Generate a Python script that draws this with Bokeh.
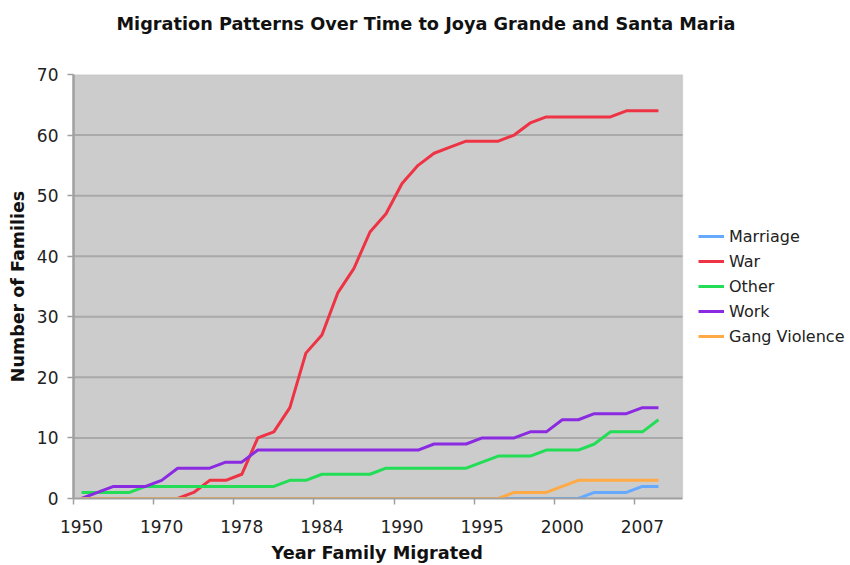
from bokeh.plotting import figure
from bokeh.models import FixedTicker, Range1d, Legend, LegendItem, BoxAnnotation, Title
from bokeh.embed import file_html
from bokeh.resources import INLINE

# category labels (only every 5th is shown on the axis)
years = [1950, 1955, 1960, 1965, 1968, 1970, 1972, 1974, 1975, 1976,
         1978, 1979, 1980, 1981, 1982, 1984, 1985, 1986, 1987, 1988,
         1990, 1991, 1992, 1993, 1994, 1995, 1996, 1997, 1998, 1999,
         2000, 2001, 2002, 2004, 2005, 2007, 2008, 2009]

marriage = [0]*32 + [1, 1, 1, 2, 2]
war = [0, 0, 0, 0, 0, 0, 0, 1, 3, 3, 4, 10, 11, 15, 24, 27, 34, 38, 44, 47,
       52, 55, 57, 58, 59, 59, 59, 60, 62, 63, 63, 63, 63, 63, 64, 64, 64]
other = [1, 1, 1, 1, 2, 2, 2, 2, 2, 2, 2, 2, 2, 3, 3, 4, 4, 4, 4, 5,
         5, 5, 5, 5, 5, 6, 7, 7, 7, 8, 8, 8, 9, 11, 11, 11, 13]
work = [0, 1, 2, 2, 2, 3, 5, 5, 5, 6, 6, 8, 8, 8, 8, 8, 8, 8, 8, 8,
        8, 8, 9, 9, 9, 10, 10, 10, 11, 11, 13, 13, 14, 14, 14, 15, 15]
gang = [0]*27 + [1, 1, 1, 2, 3, 3, 3, 3, 3, 3]

series_names = ["Marriage", "War", "Other", "Work", "Gang Violence"]
series_values = [marriage, war, other, work, gang]
series_colors = ["#66aaff", "#ee3344", "#22dd55", "#8a2be2", "#ffaa44"]

y_ticks = [0, 10, 20, 30, 40, 50, 60, 70]
y_max = 70
label_every = 5

# layout (pixels)
W, H = 850, 565
left, top, bottom = 73, 74, 67
plot_right = 682          # right edge of the grey plot area
legend_x, legend_y = 625, 152

n_cat = len(years)
x_lo, x_hi = -0.5, n_cat - 0.5
# the frame extends to the right edge so the legend can sit beside the plot area
x_end = x_lo + (x_hi - x_lo) * (W - left) / (plot_right - left)

p = figure(width=W, height=H, output_backend="svg", toolbar_location=None,
           x_range=Range1d(x_lo, x_end), y_range=Range1d(0, y_max),
           min_border_left=left, min_border_right=0, min_border_top=top,
           min_border_bottom=bottom)
p.background_fill_color = "white"
p.border_fill_color = "white"
p.outline_line_color = None

p.title.text = "Migration Patterns Over Time to Joya Grande and Santa Maria"
p.title.align = "left"
p.title.offset = 43
p.title.standoff = 0
p.title.padding = dict(left=0, right=0, top=0, bottom=41)
p.title.text_font = "DejaVu Sans"
p.title.text_font_style = "bold"
p.title.text_font_size = "17.7px"
p.title.text_color = "#111111"

# grey plot area with border
p.add_layout(BoxAnnotation(left=x_lo, right=x_hi, bottom=0, top=y_max,
                           fill_color="#cccccc", fill_alpha=1,
                           line_color="#aaaaaa", line_width=1.5,
                           level="underlay"))

# horizontal grid lines inside the plot area only
p.xgrid.grid_line_color = None
p.ygrid.grid_line_color = None
grid_y = y_ticks[1:-1]
p.segment(x0=[x_lo]*len(grid_y), x1=[x_hi]*len(grid_y), y0=grid_y, y1=grid_y,
          line_color="#a9a9a9", line_width=2)

# x axis: labels at category centres, tick marks at category boundaries
label_idx = list(range(0, n_cat - 2, label_every))
xt = FixedTicker(ticks=label_idx, minor_ticks=[i - 0.5 for i in label_idx])
p.xaxis.ticker = xt
p.xaxis.bounds = (x_lo, x_hi)
p.xaxis.major_label_overrides = {i: str(years[i]) for i in label_idx}
p.xaxis.major_tick_line_color = None
p.xaxis.major_tick_out = 6
p.xaxis.major_tick_in = 0
p.xaxis.minor_tick_line_color = "#a0a0a0"
p.xaxis.minor_tick_line_width = 1.5
p.xaxis.minor_tick_out = 6
p.xaxis.minor_tick_in = 0
p.xaxis.axis_line_color = "#a0a0a0"
p.xaxis.axis_line_width = 2
p.xaxis.major_label_text_font = "DejaVu Sans"
p.xaxis.major_label_text_font_size = "17px"
p.xaxis.major_label_text_color = "#222222"
p.xaxis.major_label_standoff = 15

# x axis title, centred under the grey plot area
xtitle = Title(text="Year Family Migrated", align="left", offset=198,
               standoff=0, padding=dict(left=0, right=0, top=5, bottom=0),
               text_font="DejaVu Sans", text_font_style="bold",
               text_font_size="17.7px", text_color="#111111")
p.add_layout(xtitle, "below")

p.yaxis.ticker = FixedTicker(ticks=y_ticks)
p.yaxis.minor_tick_line_color = None
p.yaxis.major_tick_line_color = "#a0a0a0"
p.yaxis.major_tick_line_width = 1.5
p.yaxis.major_tick_out = 6
p.yaxis.major_tick_in = 0
p.yaxis.axis_line_color = "#a0a0a0"
p.yaxis.axis_line_width = 2.5
p.yaxis.major_label_text_font = "DejaVu Sans"
p.yaxis.major_label_text_font_size = "17px"
p.yaxis.major_label_text_color = "#222222"
p.yaxis.major_label_standoff = 9
p.yaxis.axis_label = "Number of Families"
p.yaxis.axis_label_text_font = "DejaVu Sans"
p.yaxis.axis_label_text_font_style = "bold"
p.yaxis.axis_label_text_font_size = "17.5px"
p.yaxis.axis_label_text_color = "#111111"
p.yaxis.axis_label_standoff = 6

items = []
for name, vals, col in zip(series_names, series_values, series_colors):
    xs = list(range(len(vals)))
    r = p.line(xs, vals, line_color=col, line_width=3, line_join="round")
    items.append(LegendItem(label=name, renderers=[r]))

legend = Legend(items=items, location=(legend_x, legend_y), orientation="vertical",
                glyph_width=26, glyph_height=20, label_height=20, spacing=5,
                padding=0, margin=0, label_standoff=5,
                background_fill_alpha=0, border_line_alpha=0,
                label_text_font="DejaVu Sans", label_text_font_size="16px",
                label_text_color="#222222")
p.add_layout(legend)

open("out.html", "w").write(file_html(p, INLINE))
